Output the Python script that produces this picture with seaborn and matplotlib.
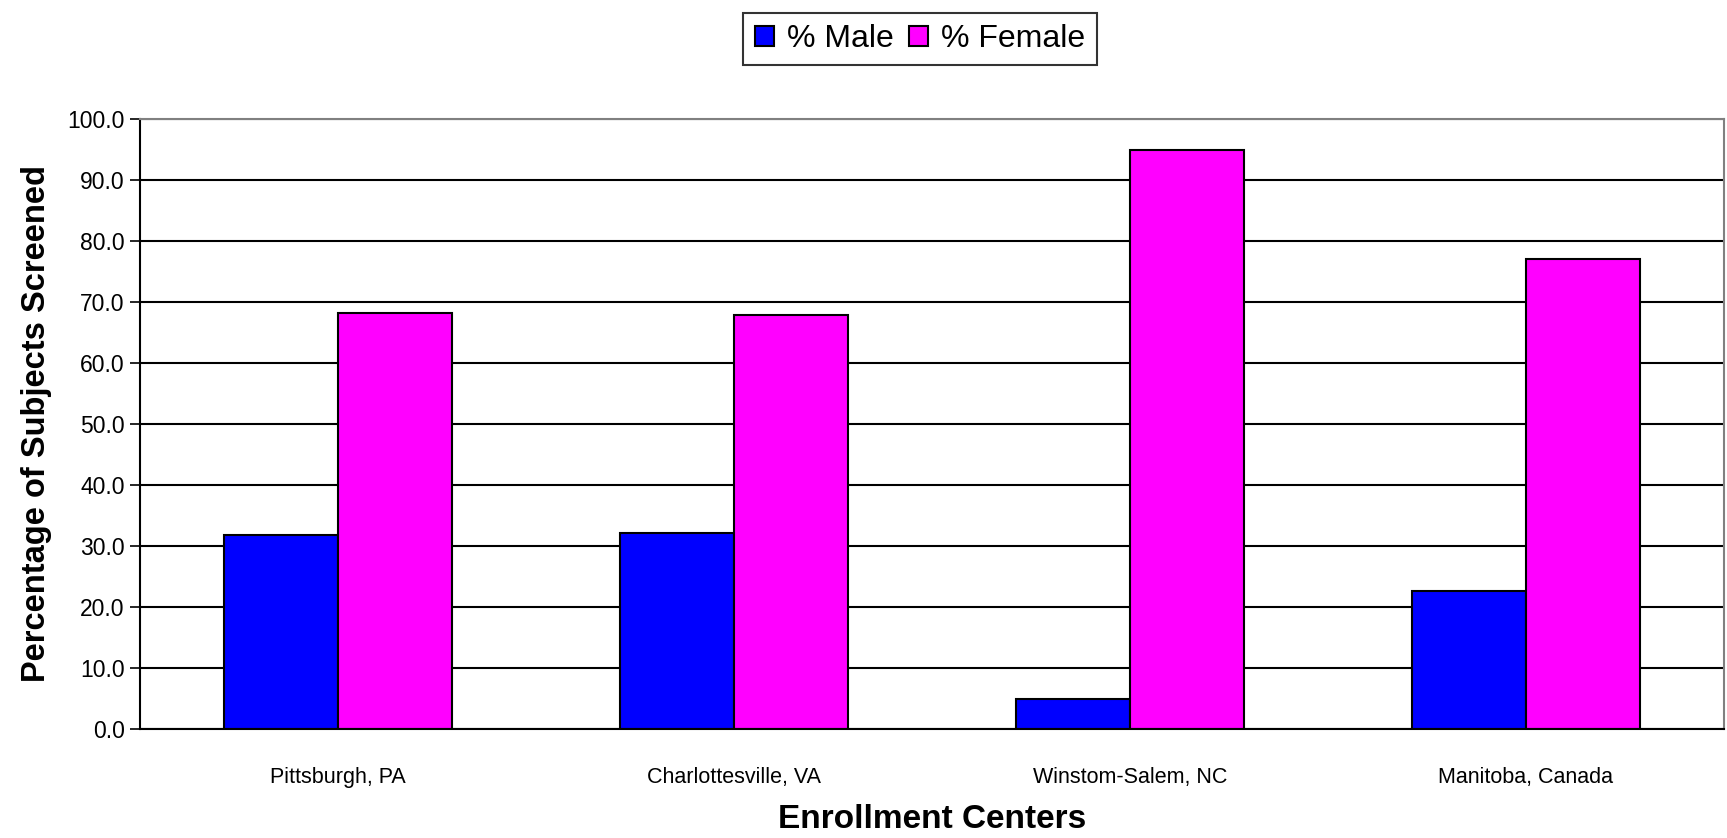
import pandas as pd
import matplotlib.pyplot as plt
import seaborn as sns
import numpy as np

centers = ['Pittsburgh, PA', 'Charlottesville, VA', 'Winstom-Salem, NC', 'Manitoba, Canada']
male = [31.8, 32.2, 4.9, 22.7]
female = [68.2, 67.8, 94.9, 77.1]
series = ['% Male', '% Female']
yticks = [0, 10, 20, 30, 40, 50, 60, 70, 80, 90, 100]

df = pd.DataFrame({
    'Center': centers * 2,
    'Group': [series[0]] * len(centers) + [series[1]] * len(centers),
    'Pct': male + female,
})

sns.set_style('white')
plt.rcParams['font.family'] = ['Liberation Sans', 'DejaVu Sans']
plt.rcParams['text.color'] = 'black'
plt.rcParams['axes.labelcolor'] = 'black'
plt.rcParams['xtick.color'] = 'black'
plt.rcParams['ytick.color'] = 'black'

fig = plt.figure(figsize=(17.27, 8.38), dpi=100)
ax = fig.add_axes([140/1727, 1 - 729/838, (1724-140)/1727, (729-119)/838])

sns.barplot(data=df, x='Center', y='Pct', hue='Group', ax=ax,
            palette=['#0000FF', '#FF00FF'], edgecolor='black', linewidth=1.5,
            width=0.574, saturation=1, legend=True)

ax.set_ylim(0, 100)
ax.set_xlim(-0.5, len(centers) - 0.5)
ax.set_yticks(yticks)
ax.set_yticklabels([f'{v:.1f}' for v in yticks], fontsize=16.5)
ax.yaxis.grid(True, color='black', linewidth=1.5)
ax.set_axisbelow(True)

# category ticks sit between groups, like Excel
ax.set_xticks(np.arange(len(centers)))
ax.set_xticklabels(centers, fontsize=15.5)
ax.tick_params(axis='x', length=0, pad=27)
ax.set_xticks(np.arange(-0.5, len(centers)), minor=True)
ax.tick_params(axis='x', which='minor', length=8, width=1.2, color='black', direction='out')
ax.tick_params(axis='y', length=7, width=1.2, color='black', direction='out', left=True, pad=4)

for s in ['left', 'bottom']:
    ax.spines[s].set_color('black')
    ax.spines[s].set_linewidth(1.5)
for s in ['top', 'right']:
    ax.spines[s].set_color('gray')
    ax.spines[s].set_linewidth(1.5)

ax.set_xlabel('Enrollment Centers', fontsize=24, fontweight='bold', labelpad=12)
ax.set_ylabel('Percentage of Subjects Screened', fontsize=23.5, fontweight='bold', labelpad=11)

handles, labels = ax.get_legend_handles_labels()
ax.get_legend().remove()
leg = fig.legend(handles, labels, loc='center', bbox_to_anchor=(920/1727, 1 - 39/838),
                 ncol=2, fontsize=23, frameon=True, fancybox=False, edgecolor='black',
                 handlelength=0.6, handleheight=0.6, handletextpad=0.4, columnspacing=0.5,
                 borderpad=0.35)
leg.get_frame().set_linewidth(1.5)

plt.savefig('out.png', dpi=100)
